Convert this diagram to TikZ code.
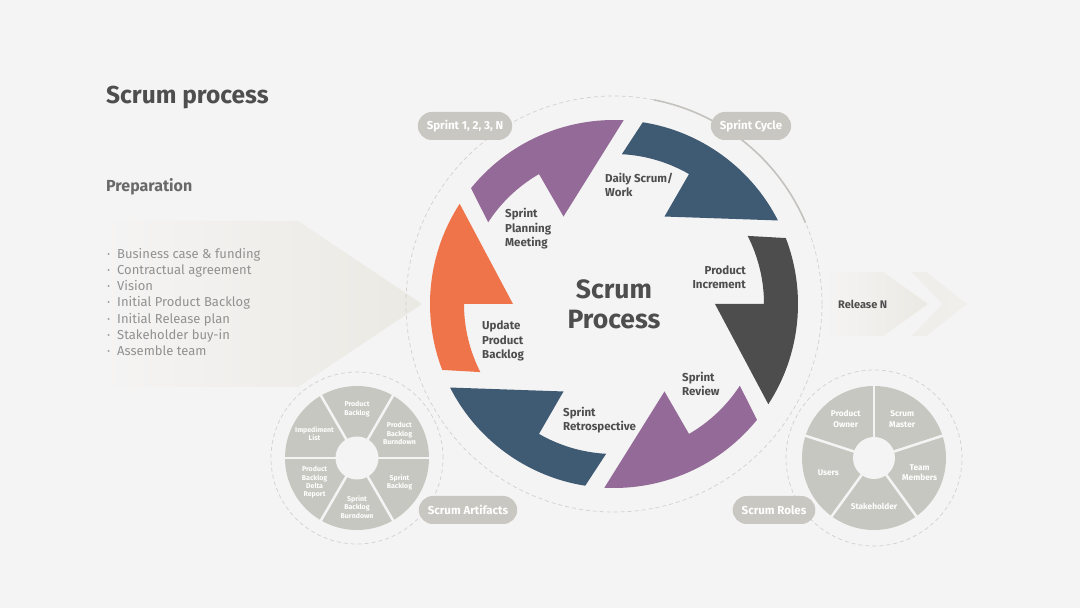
\documentclass[tikz,border=0pt]{standalone}
\usepackage{fontspec}
\setmainfont{Fira Sans}
\usetikzlibrary{positioning,calc}
\definecolor{bgc}{RGB}{245,244,244}
\definecolor{orangec}{RGB}{240,116,74}
\definecolor{purplec}{RGB}{148,107,152}
\definecolor{bluec}{RGB}{63,90,115}
\definecolor{darkc}{RGB}{77,77,77}
\definecolor{pillc}{RGB}{200,199,193}
\definecolor{wheelc}{RGB}{199,199,193}
\definecolor{ringc}{RGB}{210,209,206}
\definecolor{arcc}{RGB}{195,194,190}
\definecolor{prepc}{RGB}{234,233,227}
\definecolor{txtc}{RGB}{78,78,78}
\definecolor{listc}{RGB}{145,145,145}
\newcommand{\itm}{\makebox[10pt][l]{·}}

\begin{document}
\begin{tikzpicture}[x=1pt,y=1pt]
\tikzset{
  lbl/.style={font=\fontsize{11.5}{14.5}\selectfont\bfseries,text=txtc,align=left,inner sep=0pt},
  pill/.style={fill=pillc,rounded corners=14pt,minimum height=28pt,inner xsep=9pt,text=white,font=\fontsize{11.5}{13}\selectfont\bfseries},
  wlab/.style={text=white,align=center,inner sep=0pt,font=\fontsize{7}{8.3}\selectfont\bfseries},
  rlab/.style={text=white,align=center,inner sep=0pt,font=\fontsize{8.3}{10.5}\selectfont\bfseries},
  ring/.style={draw=ringc,line width=0.7pt,dash pattern=on 4pt off 3pt},
  sep/.style={draw=bgc,line width=2.5pt}
}
\useasboundingbox (0,0) rectangle (1080,608);
\fill[bgc] (0,0) rectangle (1080,608);

% Headings
\node[anchor=west,inner sep=0pt,text=txtc,font=\fontsize{24.5}{28}\selectfont\bfseries] (title) at (106,510) {Scrum process};
\node[anchor=west,inner sep=0pt,text=txtc!85!white,font=\fontsize{16}{19}\selectfont\bfseries] (prep) at (106,421) {Preparation};

% Preparation arrow
\shade[left color=bgc,right color=prepc] (100,221) -- (298,221) -- (422,304) -- (298,387) -- (100,387) -- cycle;
\node[anchor=west,inner sep=0pt,align=left,text=listc,font=\fontsize{13}{16.2}\selectfont] (items) at (107,306) {
  \itm Business case \& funding\\
  \itm Contractual agreement\\
  \itm Vision\\
  \itm Initial Product Backlog\\
  \itm Initial Release plan\\
  \itm Stakeholder buy-in\\
  \itm Assemble team};

% Release arrow
\shade[left color=bgc,right color=prepc] (825,272) -- (883,272) -- (928,304) -- (883,336) -- (825,336) -- cycle;
\shade[left color=prepc!60!bgc,right color=prepc!45!bgc] (912,272) -- (926,272) -- (967,304) -- (926,336) -- (912,336) -- (942,304) -- cycle;
\node[anchor=west,inner sep=0pt,text=txtc,font=\fontsize{11}{13}\selectfont\bfseries] (rel) at (838,304) {Release N};

% Sprint cycle
\coordinate (c) at (614,304);
\draw[ring] (c) circle[radius=208pt];
\draw[arcc,line width=1.6pt] ($(c)+(79:208)$) arc[start angle=79,end angle=23,radius=208pt];
\begin{scope}[shift={(c)}]
\foreach \s/\col in {201/orangec,141/purplec,81/bluec,21/darkc,-39/purplec,-99/bluec}
  \fill[\col] (\s:184) arc[start angle=\s,end angle=\s-54,radius=184pt] -- (\s-21:101) -- (\s-21:150) arc[start angle=\s-21,end angle=\s+6,radius=150pt] -- cycle;
\end{scope}
\node[lbl,anchor=west] (plan) at (505,379) {Sprint\\Planning\\Meeting};
\node[lbl,anchor=west] (daily) at (605,423) {Daily Scrum/\\Work};
\node[lbl,anchor=east,align=right] (incr) at (746,331) {Product\\Increment};
\node[lbl,anchor=west] (review) at (682,224) {Sprint\\Review};
\node[lbl,anchor=west] (retro) at (563,188) {Sprint\\Retrospective};
\node[lbl,anchor=west] (update) at (482,267) {Update\\Product\\Backlog};
\node[align=center,inner sep=0pt,text=txtc,font=\fontsize{26.5}{30}\selectfont\bfseries] (core) at (c) {Scrum\\Process};
\node[pill] (sprints) at (465,482) {Sprint 1, 2, 3, N};
\node[pill] (cycle) at (751,482) {Sprint Cycle};

% Artifacts wheel
\coordinate (art) at (357,150);
\draw[ring] (art) circle[radius=86pt];
\fill[wheelc] (art) circle[radius=72pt];
\foreach \a in {0,60,...,300} \draw[sep] (art) -- ++(\a:73);
\fill[bgc] (art) circle[radius=21.5pt];
\foreach \a/\t [count=\i] in {90/{Product\\Backlog},30/{Product\\Backlog\\Burndown},-30/{Sprint\\Backlog},-90/{Sprint\\Backlog\\Burndown},210/{Product\\Backlog\\Delta\\Report},150/{Impediment\\List}}
  \node[wlab] (art\i) at ($(art)+(\a:49)$) {\t};
\node[pill] (artifacts) at (468,98) {Scrum Artifacts};

% Roles wheel
\coordinate (rol) at (874,150);
\draw[ring] (rol) circle[radius=88pt];
\fill[wheelc] (rol) circle[radius=72pt];
\foreach \a in {90,18,-54,-126,162} \draw[sep] (rol) -- ++(\a:73);
\fill[bgc] (rol) circle[radius=21pt];
\foreach \a/\t [count=\i] in {126/{Product\\Owner},54/{Scrum\\Master},-18/{Team\\Members},-90/{Stakeholder},198/{Users}}
  \node[rlab] (rol\i) at ($(rol)+(\a:48)$) {\t};
\node[pill] (roles) at (774,98) {Scrum Roles};
\end{tikzpicture}
\end{document}
